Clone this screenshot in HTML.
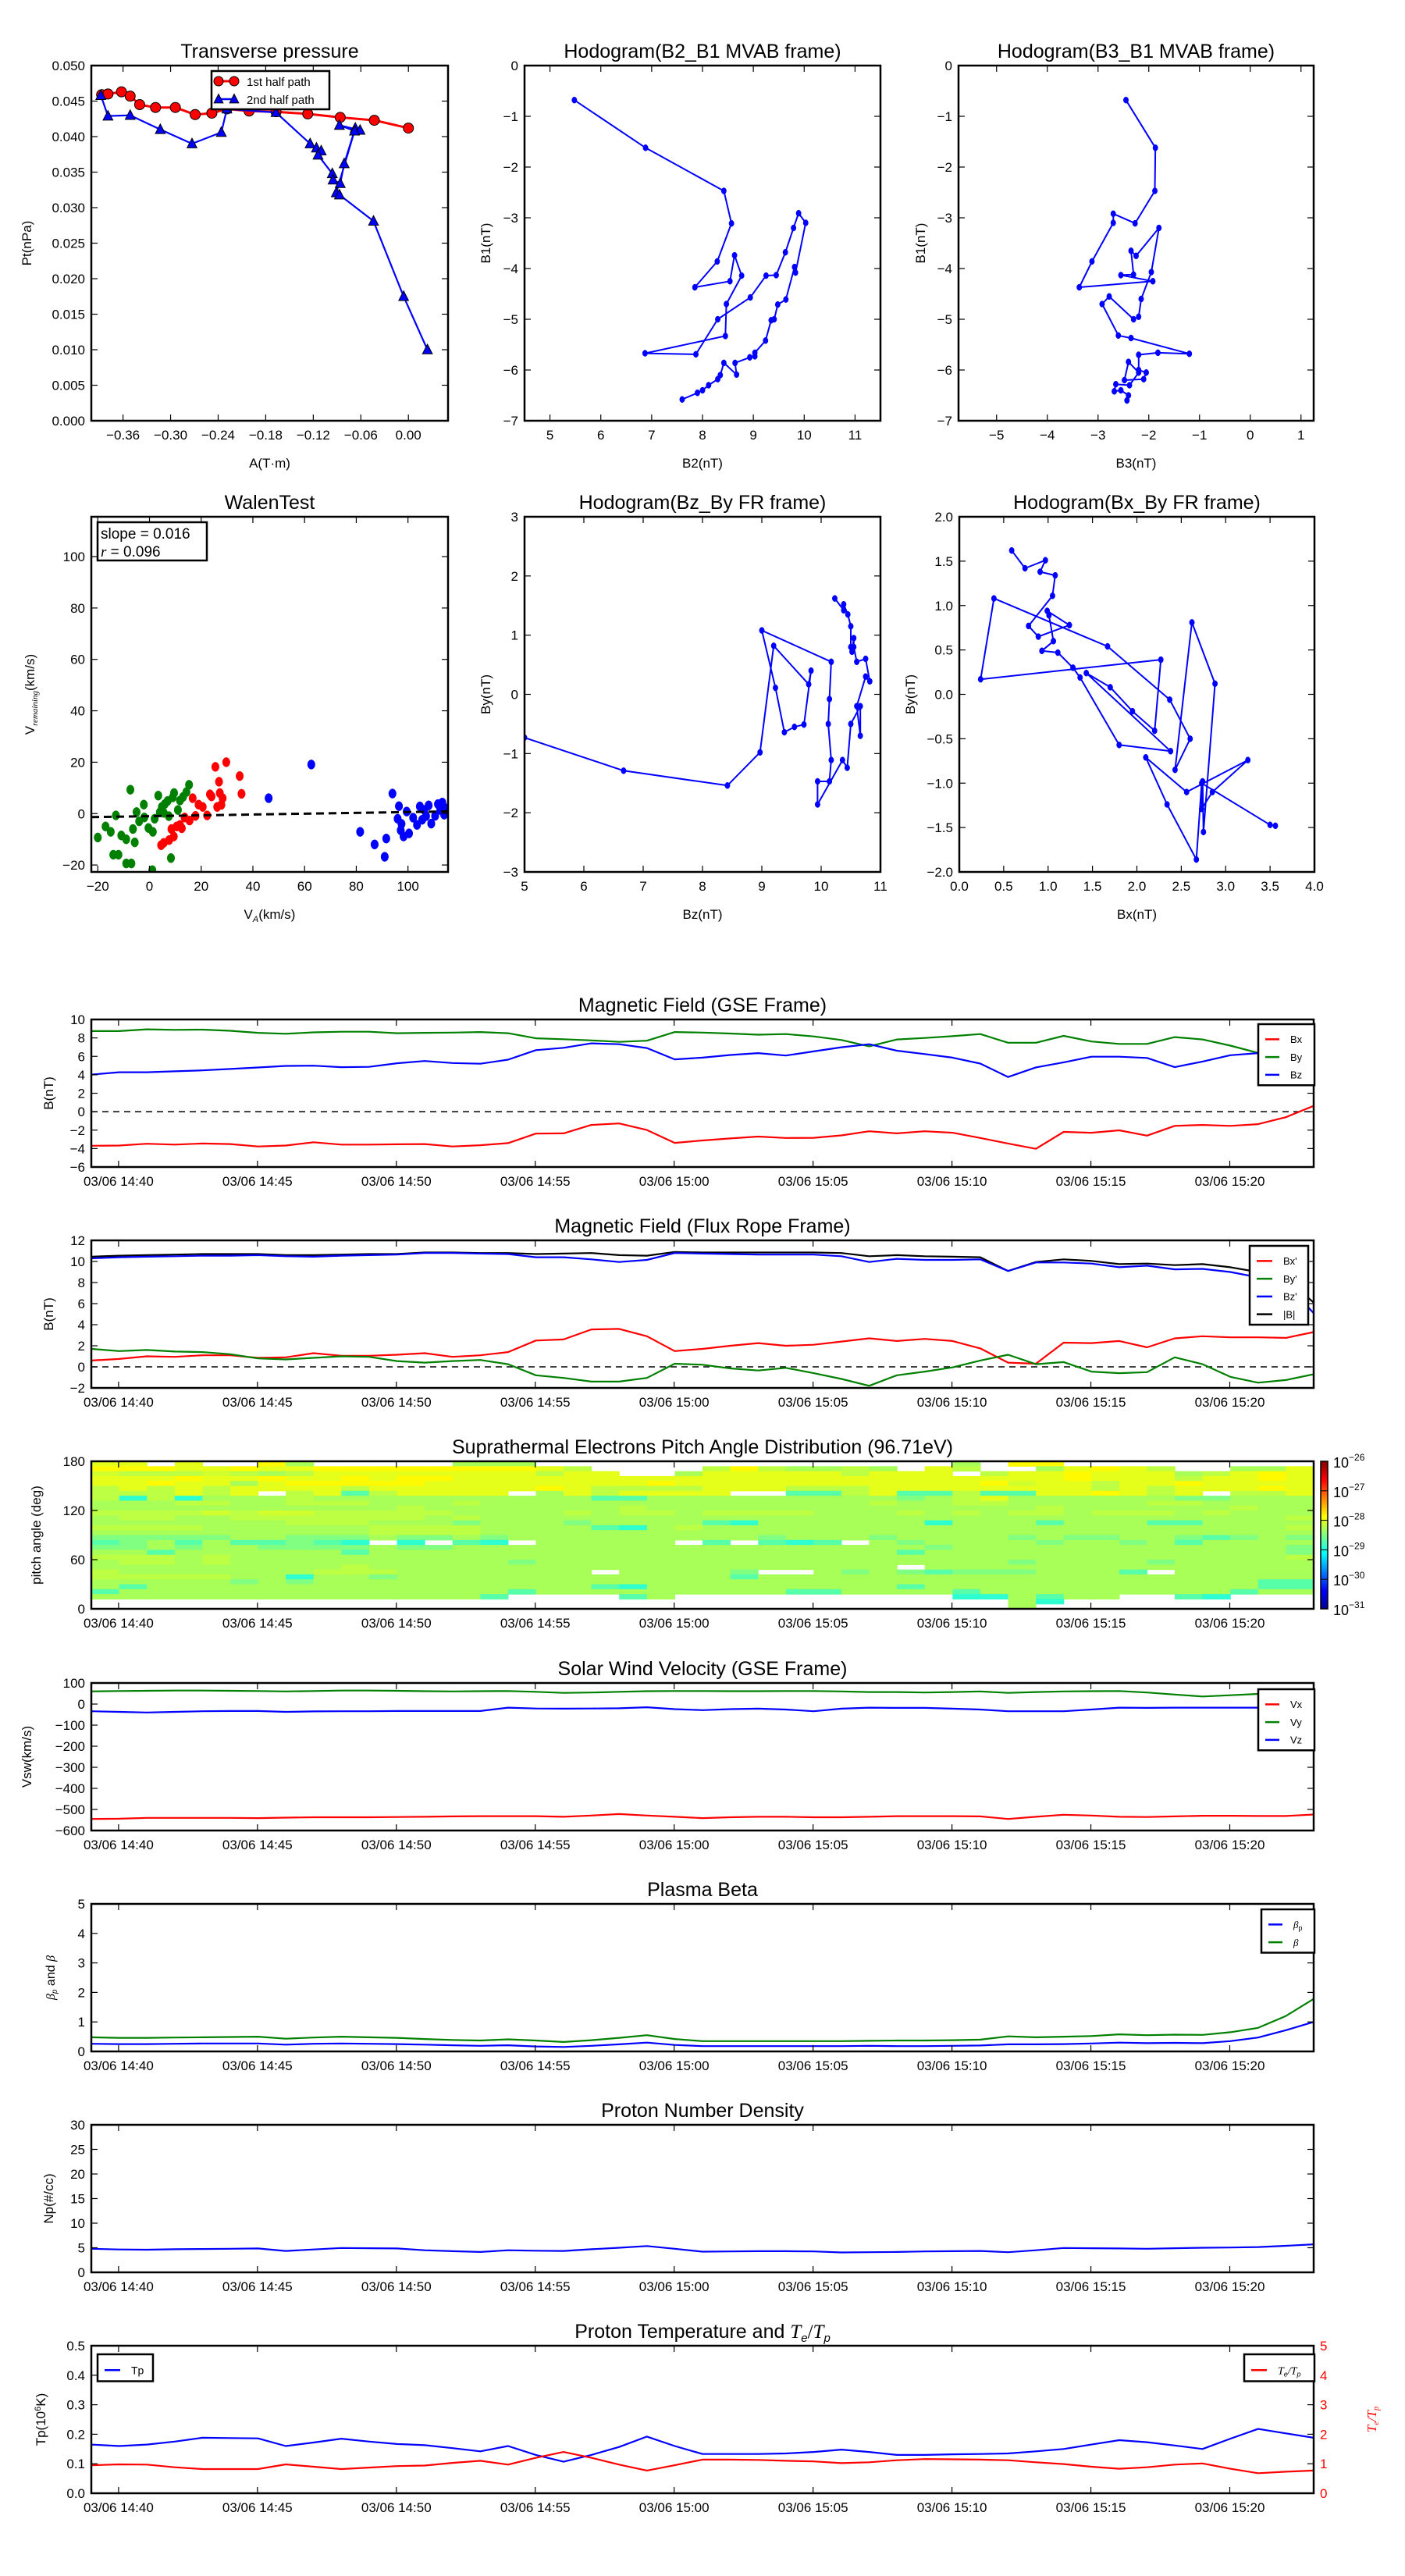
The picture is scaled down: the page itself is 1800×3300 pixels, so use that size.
<!DOCTYPE html>
<html>
<head>
<meta charset="utf-8">
<style>
html,body{margin:0;padding:0;background:#fff;}
svg{display:block;font-family:"Liberation Sans",sans-serif;}
</style>
</head>
<body>
<svg id="fig" xmlns="http://www.w3.org/2000/svg" width="1800" height="3300" viewBox="0 0 1800 3300">
<rect x="0" y="0" width="1800" height="3300" fill="#fff"/>
<defs>
<linearGradient id="jet" x1="0" y1="1" x2="0" y2="0">
<stop offset="0" stop-color="#00008f"/><stop offset="0.125" stop-color="#0000ff"/><stop offset="0.375" stop-color="#00ffff"/>
<stop offset="0.625" stop-color="#ffff00"/><stop offset="0.875" stop-color="#ff0000"/><stop offset="1" stop-color="#800000"/>
</linearGradient>
</defs>
</svg>
<script>
// ---------------- DATA ----------------
const bxGSE=[-3.7,-3.67,-3.48,-3.57,-3.45,-3.51,-3.77,-3.67,-3.32,-3.57,-3.57,-3.54,-3.51,-3.77,-3.64,-3.41,-2.38,-2.35,-1.44,-1.28,-1.99,-3.38,-3.12,-2.9,-2.7,-2.85,-2.83,-2.57,-2.12,-2.35,-2.12,-2.28,-2.85,-3.45,-4.03,-2.19,-2.28,-2.02,-2.6,-1.54,-1.44,-1.54,-1.35,-0.6,0.63];
const byGSE=[8.74,8.74,8.93,8.87,8.9,8.77,8.55,8.45,8.6,8.67,8.67,8.51,8.55,8.58,8.64,8.51,7.96,7.86,7.73,7.57,7.7,8.64,8.58,8.48,8.35,8.42,8.16,7.77,7.09,7.83,7.99,8.19,8.42,7.48,7.48,8.22,7.61,7.35,7.35,8.09,7.83,7.16,6.38,6.0,5.8];
const bzGSE=[4.02,4.28,4.28,4.38,4.48,4.63,4.79,4.96,4.99,4.83,4.86,5.25,5.5,5.28,5.2,5.64,6.67,6.93,7.41,7.32,6.9,5.67,5.86,6.15,6.35,6.09,6.54,6.99,7.32,6.61,6.25,5.86,5.22,3.76,4.8,5.35,5.96,5.96,5.83,4.83,5.44,6.12,6.35,6.4,4.25];
const bxFR=[0.6,0.75,1.0,0.95,1.1,1.1,0.85,0.9,1.3,1.05,1.05,1.15,1.3,0.95,1.1,1.4,2.5,2.6,3.55,3.6,2.9,1.5,1.7,2.0,2.25,2.0,2.1,2.4,2.7,2.45,2.65,2.45,1.75,0.4,0.3,2.3,2.25,2.45,1.85,2.7,2.9,2.8,2.8,2.75,3.3];
const byFR=[1.7,1.5,1.6,1.45,1.4,1.2,0.8,0.7,0.85,1.0,0.95,0.55,0.4,0.55,0.65,0.25,-0.8,-1.05,-1.4,-1.4,-1.05,0.3,0.2,-0.15,-0.35,-0.1,-0.6,-1.15,-1.8,-0.8,-0.45,-0.05,0.6,1.15,0.25,0.45,-0.45,-0.6,-0.5,0.9,0.25,-0.95,-1.5,-1.25,-0.7];
const bzFR=[10.3,10.4,10.45,10.5,10.55,10.55,10.6,10.5,10.45,10.55,10.6,10.65,10.8,10.8,10.75,10.7,10.4,10.4,10.2,9.95,10.15,10.8,10.75,10.7,10.65,10.65,10.65,10.5,9.95,10.25,10.15,10.15,10.2,9.1,9.9,9.9,9.8,9.45,9.6,9.25,9.3,9.0,8.5,7.9,5.1];
const btFR=[10.45,10.55,10.6,10.65,10.7,10.7,10.7,10.6,10.6,10.65,10.7,10.7,10.85,10.85,10.8,10.8,10.7,10.75,10.8,10.6,10.55,10.9,10.85,10.85,10.85,10.85,10.85,10.8,10.5,10.6,10.5,10.45,10.4,9.1,9.95,10.2,10.05,9.75,9.8,9.65,9.75,9.45,9.0,8.4,6.1];
const vx=[-545,-544,-540,-540,-540,-540,-541,-539,-537,-537,-537,-536,-535,-533,-532,-532,-532,-535,-529,-522,-529,-535,-541,-537,-535,-535,-537,-537,-535,-532,-532,-532,-533,-545,-535,-525,-529,-535,-536,-533,-530,-530,-531,-531,-524];
const vy=[60,62,63,64,64,63,62,60,62,64,64,63,61,60,61,62,58,53,55,58,61,62,62,61,61,62,62,60,57,57,55,57,60,53,57,60,61,62,55,45,36,42,48,54,60];
const vz=[-34,-37,-40,-37,-34,-33,-33,-37,-35,-34,-34,-33,-33,-33,-33,-17,-21,-22,-21,-20,-15,-24,-29,-24,-22,-26,-34,-22,-17,-18,-18,-22,-26,-34,-34,-34,-26,-17,-18,-17,-17,-17,-17,-15,0];
const betaP=[0.26,0.25,0.25,0.26,0.27,0.27,0.27,0.23,0.26,0.27,0.26,0.25,0.23,0.21,0.19,0.21,0.17,0.15,0.19,0.24,0.3,0.22,0.18,0.18,0.18,0.18,0.18,0.18,0.19,0.18,0.18,0.19,0.2,0.24,0.24,0.25,0.27,0.3,0.28,0.29,0.28,0.35,0.47,0.72,1.0];
const betaT=[0.48,0.46,0.46,0.47,0.48,0.49,0.5,0.43,0.47,0.5,0.48,0.46,0.42,0.39,0.37,0.41,0.37,0.32,0.38,0.46,0.55,0.42,0.35,0.35,0.35,0.35,0.35,0.35,0.36,0.37,0.37,0.38,0.4,0.51,0.48,0.5,0.52,0.58,0.55,0.57,0.56,0.65,0.8,1.2,1.78];
const np=[4.8,4.65,4.6,4.7,4.75,4.8,4.85,4.35,4.65,4.95,4.9,4.85,4.5,4.3,4.15,4.5,4.4,4.35,4.7,5.0,5.35,4.8,4.2,4.25,4.3,4.3,4.25,4.05,4.1,4.15,4.25,4.3,4.35,4.1,4.5,4.95,4.9,4.85,4.8,4.9,5.0,5.05,5.15,5.4,5.7];
const tp=[0.165,0.16,0.165,0.175,0.188,0.187,0.186,0.16,0.172,0.185,0.175,0.167,0.163,0.153,0.142,0.16,0.13,0.107,0.13,0.157,0.192,0.16,0.133,0.133,0.133,0.135,0.14,0.148,0.14,0.13,0.13,0.132,0.133,0.135,0.142,0.15,0.165,0.18,0.173,0.162,0.15,0.185,0.218,0.203,0.188];
const teTp=[0.95,0.98,0.97,0.88,0.82,0.82,0.82,0.98,0.9,0.82,0.87,0.92,0.94,1.03,1.1,0.97,1.2,1.4,1.2,0.97,0.77,0.95,1.14,1.14,1.13,1.1,1.08,1.02,1.05,1.12,1.16,1.15,1.14,1.12,1.05,0.99,0.9,0.83,0.88,0.97,1.01,0.83,0.68,0.73,0.77];
const timeTickLabels=["03/06 14:40","03/06 14:45","03/06 14:50","03/06 14:55","03/06 15:00","03/06 15:05","03/06 15:10","03/06 15:15","03/06 15:20"];
const timeTickPos=[0.98,5.98,10.98,15.98,20.98,25.98,30.98,35.98,40.98];

const ptA1=[-0.387,-0.379,-0.362,-0.351,-0.339,-0.319,-0.294,-0.269,-0.248,-0.229,-0.201,-0.167,-0.127,-0.086,-0.043,0.0];
const ptP1=[0.0459,0.046,0.0463,0.0457,0.0445,0.0441,0.0441,0.0431,0.0433,0.0439,0.0436,0.0435,0.0432,0.0427,0.0423,0.0412];
const ptA2=[-0.388,-0.379,-0.351,-0.313,-0.273,-0.236,-0.229,-0.167,-0.124,-0.116,-0.110,-0.114,-0.096,-0.095,-0.086,-0.081,-0.067,-0.061,-0.087,-0.068,-0.091,-0.087,-0.044,-0.006,0.024];
const ptP2=[0.0458,0.0429,0.0430,0.0410,0.0390,0.0406,0.0439,0.0434,0.0390,0.0384,0.0380,0.0374,0.0348,0.0339,0.0334,0.0362,0.0412,0.0409,0.0416,0.0408,0.0321,0.0318,0.0281,0.0175,0.0100];
const ptXTicks=[-0.36,-0.30,-0.24,-0.18,-0.12,-0.06,0.00];
const ptYTicks=[0,0.005,0.01,0.015,0.02,0.025,0.03,0.035,0.04,0.045,0.05];

const h1B2=[5.48,6.88,8.42,8.57,8.29,7.85,8.54,8.63,8.77,8.47,8.45,6.87,7.87,8.3,8.94,9.25,9.45,9.63,9.79,9.89,10.03,9.83,9.81,9.64,9.48,9.41,9.35,9.24,9.03,9.03,8.93,8.64,8.67,8.42,8.35,8.3,8.12,8.0,7.9,7.6];
const h1B1=[-0.68,-1.62,-2.47,-3.11,-3.86,-4.37,-4.25,-3.74,-4.14,-4.7,-5.33,-5.67,-5.69,-5.0,-4.57,-4.14,-4.13,-3.68,-3.2,-2.91,-3.1,-4.08,-3.97,-4.61,-4.71,-5.0,-5.02,-5.42,-5.66,-5.73,-5.75,-5.86,-6.09,-5.86,-6.1,-6.18,-6.3,-6.4,-6.45,-6.58];
const h2B3=[-2.45,-1.87,-1.88,-2.27,-2.7,-2.7,-3.12,-3.37,-1.92,-2.55,-2.3,-2.35,-2.25,-1.8,-1.95,-2.15,-2.2,-2.3,-2.78,-2.92,-2.6,-2.35,-1.2,-1.82,-2.2,-2.2,-2.05,-2.1,-2.48,-2.4,-2.2,-2.38,-2.65,-2.68,-2.55,-2.4,-2.43];
const h2B1=[-0.68,-1.62,-2.47,-3.11,-2.92,-3.1,-3.86,-4.37,-4.25,-4.13,-4.12,-3.65,-3.75,-3.2,-4.07,-4.6,-4.95,-5.0,-4.55,-4.7,-5.32,-5.37,-5.68,-5.66,-5.7,-6.0,-6.05,-6.18,-6.2,-5.84,-6.05,-6.3,-6.28,-6.42,-6.4,-6.5,-6.6];
const walGreenX=[-20,-15,-13,-12,-14,-9,-7,-7.4,-5.7,-6.4,-10.9,-9,-5,-2.2,-0.4,1.3,2,3.4,4.8,5.9,7,8.3,9,11,11.8,13,14.3,15.3,1.1,4,7.5,-2,5.5,-17,-4,9.5];
const walGreenY=[-9.3,-7.1,-0.7,-16,-16,-19.4,-19.4,9.3,-11.2,-6,-8.5,-10,0.6,3.5,-5.6,-7.1,-2,7,2.6,3.7,4.9,-17.3,6.3,1.4,5.1,6.5,8.4,11.2,-22,0.5,-1,-1.5,0.3,-5,-3,8];
const walRedX=[25.5,29.7,34.9,35.6,26.9,27.2,28.3,26.2,23.4,22.3,20.6,17.8,16.7,13.6,11.8,9.4,7.6,5.5,4.5,12.5,15.5,10.5,24,27.8,19,8.5];
const walRedY=[18.2,20,14.6,7.7,12.4,8,6,2.6,7.5,-0.7,2.6,-0.9,6,-1.5,-4.4,-8.9,-10.3,-11.4,-12.3,-5.7,-2.7,-5,6.7,3.4,3.5,-6];
const walBlueX=[46.1,62.6,81.5,87.1,91,91.6,94,96.5,97.2,98.3,100.4,102,103.5,104.6,106.3,108,109,110.5,111.6,113.3,114,96,99.5,105.5,112.5,97.5,107,115];
const walBlueY=[6,19.1,-7.1,-12,-16.8,-9.7,7.8,2.9,-6.5,-8.9,-7.7,-1.6,-4.4,2.8,1.4,3.2,-3.9,-0.9,3.7,4.3,-0.4,-2,0.8,-2.4,1.4,-4,-1,2];
const walSlope=[0.016], walIntercept=[-1.0];
const walTicks=[-20,0,20,40,60,80,100];
const h3Bz=[5,6.67,8.42,8.97,9.2,9.79,9.83,9.71,9.55,9.38,9.23,9.0,10.17,10.14,10.12,10.17,10.14,9.94,9.94,10.36,10.44,10.5,10.66,10.66,10.6,10.75,10.82,10.75,10.6,10.55,10.55,10.52,10.5,10.5,10.45,10.38,10.38,10.23];
const h3By=[-0.73,-1.29,-1.54,-0.98,0.82,0.17,0.4,-0.51,-0.55,-0.64,0.11,1.08,0.55,-0.08,-0.5,-1.11,-1.47,-1.47,-1.86,-1.11,-1.24,-0.5,-0.2,-0.7,-0.2,0.3,0.22,0.6,0.55,0.8,0.95,0.72,0.8,1.15,1.35,1.52,1.42,1.62];
const h4Bx=[0.59,0.74,0.97,0.91,1.08,1.05,0.78,0.89,1.24,0.99,1.01,1.06,0.93,1.11,1.28,1.36,1.8,2.38,1.43,1.7,1.95,2.2,2.27,0.24,0.39,1.67,2.37,2.6,2.43,2.62,2.88,2.75,2.74,2.73,2.85,3.25,2.56,2.1,2.34,2.67,2.73,3.5,3.56];
const h4By=[1.62,1.42,1.51,1.38,1.34,1.11,0.77,0.65,0.78,0.94,0.89,0.6,0.49,0.47,0.3,0.19,-0.57,-0.64,0.24,0.08,-0.19,-0.41,0.39,0.17,1.08,0.54,-0.06,-0.5,-0.85,0.81,0.12,-1.55,-0.98,-1.29,-1.1,-0.74,-1.1,-0.71,-1.24,-1.86,-1.0,-1.47,-1.48];
const padRows=[
"YYwYwwolwwwwwlllwwwwwwwwwwwwwwwlwoowwwwwwwww",
"oooYYoYYooooooooYkwwwwkokllklwYkwwlYoYkwwllY",
"ykkkyklkYYYYYYYYkYYwwlYYYYYkYYYwkYYoYYYlkYoY",
"YYYoYYoYYoYooYYYYYYYYYYYYYYYYYYYYYYoYYYkYYoY",
"YYoYYlYoooooYYYYYYYYoYYYYYYYYYYYoyYYkYYoYYYY",
"kYkYkYYYYkYYYYYYoYkkkkYYYkkkYYYYYYYYkYkYYYoY",
"kkkYkYwkYtkYYYYwlYkYYYYwwttkYttkttYYoYkYwkkY",
"kckclllkllllllllllttlllllllllglkYllllllgglll",
"lllkkllkkklllkllllllllllllllkllkklllllkkllll",
"lllllllllllklllllllkllllllllllllllkllllllkll",
"kkkkykyykkkkkllllklkklkkkklllklklkklkkklklll",
"lkkllkkkkkkklklllllllllllllllllllllllllllllk",
"lllllllkkklllglllglllltcllllllcllltlllttllll",
"kkkkllllllkkkklllltclklllllllllllllllllllllk",
"llllllllllkkkkllllllllllllllllllllllllllllll",
"gggggllggglgglglllllllllglllgllllglggllgtglg",
"tgltlttgtcwcwtcwlllllwtwtctwlgllllgllgltllll",
"gglgllgggglgglllllllllllllllllgllllllllllllg",
"lltlllllltllllllllllllllllllltlllllllllllllg",
"kkklkllllllllllllllllllllllllllllllllllllllk",
"lkklkllllllllllglllllllllllllllllgllllglllll",
"lllllllllklllllllllllllllllllwllllllllllllll",
"klllllllkkklllllllwllllgwwlglgtgggllltwlllll",
"kkkkkllcllglllllllllllltllllllllllllllllllll",
"lllllglglllllllllllllllllllllllllllllllllltt",
"ltlllllllllllllllltcllllllllltlllllllllllltt",
"tlllllllllllllltlllllllllttlllltllllllllltll",
"lllllllllllllltwwwwtlwwwwwwwwwwccltllwwtcwww",
"wwwwwwwwwwwwwwwwwwwwwwwwwwwwwwwwwlcwwwwwwwww",
"wwwwwwwwwwwwwwwwwwwwwwwwwwwwwwwwwlwwwwwwwwww"];
const padLevels={c:-28.9,t:-28.7,g:-28.5,l:-28.3,k:-28.2,y:-28.1,Y:-28.0,o:-27.85,O:-27.7};
const cbTicks=[-26,-27,-28,-29,-30,-31];

// ---------------- DRAWING ----------------
const NS='http://www.w3.org/2000/svg';
const svg=document.getElementById('fig');
let clipId=0;
function mk(tag,attrs,parent,name){
  const e=document.createElementNS(NS,tag);
  for(const k in attrs) e.setAttribute(k,attrs[k]);
  
  
  parent.appendChild(e);
  return e;
}
function txt(parent,x,y,s,size,anchor,name,extra){
  const a={x:x,y:y,'font-size':size,'text-anchor':anchor||'middle',fill:'#000'};
  if(extra) for(const k in extra) a[k]=extra[k];
  const t=mk('text',a,parent,name);
  t.textContent=s;
  return t;
}
function axes(name,x0,y0,w,h,xmin,xmax,ymin,ymax){
  const g=mk('g',{},svg,name);
  const id='clip'+(clipId++);
  const cp=mk('clipPath',{id:id},g,name+'-clip');
  mk('rect',{x:x0,y:y0,width:w,height:h},cp,name+'-clip-rect');
  const dg=mk('g',{'clip-path':'url(#'+id+')'},g,name+'-data');
  return {g,dg,x0,y0,w,h,X:v=>x0+(v-xmin)/(xmax-xmin)*w,Y:v=>y0+h-(v-ymin)/(ymax-ymin)*h};
}
function frame(ax){
  mk('rect',{x:ax.x0,y:ax.y0,width:ax.w,height:ax.h,fill:'none',stroke:'#000','stroke-width':2.5},ax.g,'plot-frame');
}
function xticks(ax,vals,labels,size){
  vals.forEach((v,i)=>{
    const x=ax.X(v);
    mk('line',{x1:x,x2:x,y1:ax.y0+ax.h,y2:ax.y0+ax.h-8,stroke:'#000','stroke-width':1.2},ax.g,'x-tick');
    mk('line',{x1:x,x2:x,y1:ax.y0,y2:ax.y0+8,stroke:'#000','stroke-width':1.2},ax.g,'x-tick-top');
    txt(ax.g,x,ax.y0+ax.h+24,labels[i],size||17,'middle','x-tick-label');
  });
}
function yticks(ax,vals,labels,size){
  vals.forEach((v,i)=>{
    const y=ax.Y(v);
    mk('line',{x1:ax.x0,x2:ax.x0+8,y1:y,y2:y,stroke:'#000','stroke-width':1.2},ax.g,'y-tick');
    mk('line',{x1:ax.x0+ax.w,x2:ax.x0+ax.w-8,y1:y,y2:y,stroke:'#000','stroke-width':1.2},ax.g,'y-tick-right');
    if(labels) txt(ax.g,ax.x0-8,y+6,labels[i],size||17,'end','y-tick-label');
  });
}
function title(ax,s,name){ return txt(ax.g,ax.x0+ax.w/2,ax.y0-10,s,25,'middle',name||'chart-title'); }
function ylabel(ax,s,x,name){
  const cy=ax.y0+ax.h/2;
  return txt(ax.g,x,cy,s,17,'middle',name||'y-axis-title',{transform:'rotate(-90 '+x+' '+cy+')'});
}
function xlabel(ax,s,name){ return txt(ax.g,ax.x0+ax.w/2,ax.y0+ax.h+60,s,17,'middle',name||'x-axis-title'); }
function series(ax,xs,ys,color,name,sw){
  const pts=xs.map((x,i)=>ax.X(x).toFixed(1)+','+ax.Y(ys[i]).toFixed(1)).join(' ');
  return mk('polyline',{points:pts,fill:'none',stroke:color,'stroke-width':sw||2.2,'stroke-linejoin':'round'},ax.dg,name);
}
function dots(ax,xs,ys,color,r,name){
  xs.forEach((x,i)=>{
    mk('ellipse',{cx:ax.X(x),cy:ax.Y(ys[i]),rx:r*0.8,ry:r,fill:color,stroke:color,'stroke-width':0.5},ax.dg,name);
  });
}
function tri(parent,cx,cy,s,name){
  return mk('polygon',{points:(cx)+','+(cy-s)+' '+(cx-s*0.9)+','+(cy+s*0.75)+' '+(cx+s*0.9)+','+(cy+s*0.75),fill:'#0000ff',stroke:'#000','stroke-width':1},parent,name);
}
function idx(n){ const a=[]; for(let i=0;i<n;i++) a.push(i); return a; }
function legend(ax,x,y,w,entries,size,lineLen){
  const rowH=size*1.75;
  const h=entries.length*rowH+10;
  const g=mk('g',{},ax.g,'legend');
  mk('rect',{x:x,y:y,width:w,height:h,fill:'#fff',stroke:'#000','stroke-width':2.5},g,'legend-box');
  entries.forEach((e,i)=>{
    const cy=y+8+rowH*(i+0.5);
    mk('line',{x1:x+9,x2:x+9+(lineLen||22),y1:cy,y2:cy,stroke:e.color,'stroke-width':2.5},g,'legend-line-'+e.key);
    const t=txt(g,x+9+(lineLen||22)+14,cy+size*0.36,'',size,'start','legend-entry-'+e.key);
    e.parts.forEach(p=>{
      const ts=mk('tspan',p.attrs||{},t,'legend-text-part');
      ts.textContent=p.s;
    });
  });
  return g;
}

(function(){
  const ax=axes('transverse-pressure-chart',117,84,457,455,-0.40,0.05,0,0.05);
  series(ax,ptA1,ptP1,'#ff0000','first-half-path-line',3);
  ptA1.forEach((a,i)=>{
    mk('circle',{cx:ax.X(a),cy:ax.Y(ptP1[i]),r:6.5,fill:'#ff0000',stroke:'#000','stroke-width':1},ax.dg,'first-half-point');
  });
  series(ax,ptA2,ptP2,'#0000ff','second-half-path-line',2.2);
  ptA2.forEach((a,i)=>{ tri(ax.dg,ax.X(a),ax.Y(ptP2[i]),7,'second-half-point'); });
  frame(ax);
  xticks(ax,ptXTicks,ptXTicks.map(v=>(v===0?'0.00':v.toFixed(2).replace('-','\u2212'))));
  yticks(ax,ptYTicks,ptYTicks.map(v=>v.toFixed(3)));
  title(ax,'Transverse pressure');
  xlabel(ax,'A(T\u00b7m)');
  ylabel(ax,'Pt(nPa)',40);
  const lg=mk('g',{},ax.g,'legend');
  mk('rect',{x:271,y:91,width:151,height:49,fill:'#fff',stroke:'#000','stroke-width':2.5},lg,'legend-box');
  mk('line',{x1:280,x2:300,y1:104,y2:104,stroke:'#ff0000','stroke-width':3},lg,'legend-line-first-half');
  mk('circle',{cx:280,cy:104,r:6,fill:'#ff0000',stroke:'#000'},lg,'legend-marker-first-half');
  mk('circle',{cx:300,cy:104,r:6,fill:'#ff0000',stroke:'#000'},lg,'legend-marker-first-half');
  txt(lg,316,110,'1st half path',15,'start','legend-entry-first-half');
  mk('line',{x1:280,x2:300,y1:127,y2:127,stroke:'#0000ff','stroke-width':2.5},lg,'legend-line-second-half');
  tri(lg,280,127,6.5,'legend-marker-second-half');
  tri(lg,300,127,6.5,'legend-marker-second-half');
  txt(lg,316,133,'2nd half path',15,'start','legend-entry-second-half');
})();

(function(){
  const ax=axes('hodogram-b2-b1-chart',672,84,456,455,4.5,11.5,-7,0);
  series(ax,h1B2,h1B1,'#0000ff','hodogram-line',2);
  dots(ax,h1B2,h1B1,'#0000ff',4,'hodogram-point');
  frame(ax);
  const xt=[5,6,7,8,9,10,11];
  xticks(ax,xt,xt.map(String));
  const yt=[0,-1,-2,-3,-4,-5,-6,-7];
  yticks(ax,yt,yt.map(v=>v===0?'0':'\u2212'+(-v)));
  title(ax,'Hodogram(B2_B1 MVAB frame)');
  xlabel(ax,'B2(nT)');
  ylabel(ax,'B1(nT)',628);
})();

(function(){
  const ax=axes('hodogram-b3-b1-chart',1228,84,455,455,-5.75,1.25,-7,0);
  series(ax,h2B3,h2B1,'#0000ff','hodogram-line',2);
  dots(ax,h2B3,h2B1,'#0000ff',4,'hodogram-point');
  frame(ax);
  const xt=[-5,-4,-3,-2,-1,0,1];
  xticks(ax,xt,xt.map(v=>v<0?'\u2212'+(-v):String(v)));
  const yt=[0,-1,-2,-3,-4,-5,-6,-7];
  yticks(ax,yt,yt.map(v=>v===0?'0':'\u2212'+(-v)));
  title(ax,'Hodogram(B3_B1 MVAB frame)');
  xlabel(ax,'B3(nT)');
  ylabel(ax,'B1(nT)',1185);
})();

(function(){
  const ax=axes('walen-test-chart',117,662,457,455,-22.5,115.5,-22.7,115.5);
  dots(ax,walGreenX,walGreenY,'#008000',6,'walen-point-green');
  dots(ax,walRedX,walRedY,'#ff0000',6,'walen-point-red');
  dots(ax,walBlueX,walBlueY,'#0000ff',6,'walen-point-blue');
  const fx=[-22.5,115.5];
  const fy=fx.map(x=>walIntercept[0]+walSlope[0]*x);
  mk('line',{x1:ax.X(fx[0]),y1:ax.Y(fy[0]),x2:ax.X(fx[1]),y2:ax.Y(fy[1]),stroke:'#000','stroke-width':3,'stroke-dasharray':'10,6'},ax.dg,'walen-fit-line');
  frame(ax);
  xticks(ax,walTicks,walTicks.map(v=>v<0?'\u2212'+(-v):String(v)));
  yticks(ax,walTicks,walTicks.map(v=>v<0?'\u2212'+(-v):String(v)));
  title(ax,'WalenTest');
  const xl=txt(ax.g,ax.x0+ax.w/2,ax.y0+ax.h+60,'V',17,'middle','x-axis-title');
  const s1=mk('tspan',{'font-size':11,'font-style':'italic',dy:4},xl,'x-axis-title-subscript'); s1.textContent='A';
  const s2=mk('tspan',{dy:-4},xl,'x-axis-title-unit'); s2.textContent='(km/s)';
  const cy=ax.y0+ax.h/2;
  const yl=txt(ax.g,44,cy,'V',17,'middle','y-axis-title',{transform:'rotate(-90 44 '+cy+')'});
  const s3=mk('tspan',{'font-size':11,'font-style':'italic','font-family':'Liberation Serif, serif',dy:4},yl,'y-axis-title-subscript'); s3.textContent='remaining';
  const s4=mk('tspan',{dy:-4},yl,'y-axis-title-unit'); s4.textContent='(km/s)';
  const bx=mk('g',{},ax.g,'fit-stats-box');
  mk('rect',{x:125,y:669,width:140,height:49,fill:'#fff',stroke:'#000','stroke-width':2.5},bx,'fit-stats-frame');
  txt(bx,129,690,'slope = 0.016',19,'start','slope-label');
  const rt=txt(bx,129,713,'',19,'start','correlation-label');
  const r1=mk('tspan',{'font-style':'italic','font-family':'Liberation Serif, serif'},rt,'correlation-symbol'); r1.textContent='r';
  const r2=mk('tspan',{},rt,'correlation-value'); r2.textContent=' = 0.096';
})();

(function(){
  const ax=axes('hodogram-bz-by-chart',672,662,456,455,5,11,-3,3);
  series(ax,h3Bz,h3By,'#0000ff','hodogram-line',2);
  dots(ax,h3Bz,h3By,'#0000ff',4,'hodogram-point');
  frame(ax);
  const xt=[5,6,7,8,9,10,11];
  xticks(ax,xt,xt.map(String));
  const yt=[-3,-2,-1,0,1,2,3];
  yticks(ax,yt,yt.map(v=>v<0?'\u2212'+(-v):String(v)));
  title(ax,'Hodogram(Bz_By FR frame)');
  xlabel(ax,'Bz(nT)');
  ylabel(ax,'By(nT)',628);
})();

(function(){
  const ax=axes('hodogram-bx-by-chart',1229,662,455,455,0,4,-2,2);
  series(ax,h4Bx,h4By,'#0000ff','hodogram-line',2);
  dots(ax,h4Bx,h4By,'#0000ff',4,'hodogram-point');
  frame(ax);
  const xt=[0,0.5,1,1.5,2,2.5,3,3.5,4];
  xticks(ax,xt,xt.map(v=>v.toFixed(1)));
  const yt=[-2,-1.5,-1,-0.5,0,0.5,1,1.5,2];
  yticks(ax,yt,yt.map(v=>v<0?'\u2212'+(-v).toFixed(1):v.toFixed(1)));
  title(ax,'Hodogram(Bx_By FR frame)');
  xlabel(ax,'Bx(nT)');
  ylabel(ax,'By(nT)',1172);
})();

const TX=117, TW=1566, TH=189;
function tsAxes(name,top,ymin,ymax){ return axes(name,TX,top,TW,TH,0,44,ymin,ymax); }
function timeX(ax){ xticks(ax,timeTickPos,timeTickLabels,17); }
function zeroLine(ax){
  mk('line',{x1:ax.x0,x2:ax.x0+ax.w,y1:ax.Y(0),y2:ax.Y(0),stroke:'#000','stroke-width':1.5,'stroke-dasharray':'8,6'},ax.dg,'zero-reference-line');
}
function neg(v){ return v<0?'\u2212'+(-v):String(v); }

(function(){
  const ax=tsAxes('magnetic-field-gse-chart',1306,-6,10);
  zeroLine(ax);
  const t=idx(45);
  series(ax,t,bxGSE,'#ff0000','bx-line');
  series(ax,t,byGSE,'#008000','by-line');
  series(ax,t,bzGSE,'#0000ff','bz-line');
  frame(ax);
  timeX(ax);
  const yt=[-6,-4,-2,0,2,4,6,8,10];
  yticks(ax,yt,yt.map(neg));
  title(ax,'Magnetic Field (GSE Frame)');
  ylabel(ax,'B(nT)',68);
  legend(ax,1612,1312,72,[
    {key:'bx',color:'#ff0000',parts:[{s:'Bx'}]},
    {key:'by',color:'#008000',parts:[{s:'By'}]},
    {key:'bz',color:'#0000ff',parts:[{s:'Bz'}]}],13,18);
})();

(function(){
  const ax=tsAxes('magnetic-field-flux-rope-chart',1589,-2,12);
  zeroLine(ax);
  const t=idx(45);
  series(ax,t,bxFR,'#ff0000','bx-prime-line');
  series(ax,t,byFR,'#008000','by-prime-line');
  series(ax,t,btFR,'#000000','b-magnitude-line');
  series(ax,t,bzFR,'#0000ff','bz-prime-line');
  frame(ax);
  timeX(ax);
  const yt=[-2,0,2,4,6,8,10,12];
  yticks(ax,yt,yt.map(neg));
  title(ax,'Magnetic Field (Flux Rope Frame)');
  ylabel(ax,'B(nT)',68);
  legend(ax,1601,1596,75,[
    {key:'bx-prime',color:'#ff0000',parts:[{s:"Bx'"}]},
    {key:'by-prime',color:'#008000',parts:[{s:"By'"}]},
    {key:'bz-prime',color:'#0000ff',parts:[{s:"Bz'"}]},
    {key:'b-magnitude',color:'#000000',parts:[{s:'|B|'}]}],13,20);
})();

function jet(x){
  const c=v=>Math.max(0,Math.min(1,v));
  const r=c(1.5-Math.abs(4*x-3)), g=c(1.5-Math.abs(4*x-2)), b=c(1.5-Math.abs(4*x-1));
  return 'rgb('+Math.round(r*255)+','+Math.round(g*255)+','+Math.round(b*255)+')';
}
(function(){
  const ax=axes('pitch-angle-distribution-chart',TX,1872,TW,TH,0,44,0,180);
  padRows.forEach((row,r)=>{
    for(let c=0;c<44;c++){
      const ch=row[c]||'l';
      if(ch==='w') continue;
      const v=padLevels[ch];
      const x1=ax.X(c), x2=ax.X(c+1);
      const yTop=ax.Y(180-6*r), yBot=ax.Y(180-6*(r+1));
      mk('rect',{x:x1.toFixed(1),y:yTop.toFixed(1),width:(x2-x1+0.6).toFixed(1),height:(yBot-yTop+0.6).toFixed(1),fill:jet((v+31)/5)},ax.dg,'pad-cell');
    }
  });
  frame(ax);
  timeX(ax);
  yticks(ax,[0,60,120,180],['0','60','120','180']);
  title(ax,'Suprathermal Electrons Pitch Angle Distribution (96.71eV)');
  ylabel(ax,'pitch angle (deg)',52);
  const cb=mk('g',{},svg,'colorbar');
  const cbTop=1872, cbH=189, cbX=1692;
  mk('rect',{x:cbX,y:cbTop,width:9,height:cbH,fill:'url(#jet)',stroke:'#000','stroke-width':1.5},cb,'colorbar-gradient');
  cbTicks.forEach(e=>{
    const y=cbTop+(-26-e)/5*cbH;
    mk('line',{x1:cbX,x2:cbX+9,y1:y,y2:y,stroke:'#000','stroke-width':1},cb,'colorbar-tick');
    const t=txt(cb,cbX+16,y+8,'10',18,'start','colorbar-tick-label');
    const sp=mk('tspan',{'font-size':12,dy:-9},t,'colorbar-tick-exponent');
    sp.textContent='\u2212'+(-e);
  });
})();

(function(){
  const ax=tsAxes('solar-wind-velocity-chart',2156,-600,100);
  const t=idx(45);
  series(ax,t,vx,'#ff0000','vx-line');
  series(ax,t,vy,'#008000','vy-line');
  series(ax,t,vz,'#0000ff','vz-line');
  frame(ax);
  timeX(ax);
  const yt=[-600,-500,-400,-300,-200,-100,0,100];
  yticks(ax,yt,yt.map(neg));
  title(ax,'Solar Wind Velocity (GSE Frame)');
  ylabel(ax,'Vsw(km/s)',40);
  legend(ax,1612,2164,72,[
    {key:'vx',color:'#ff0000',parts:[{s:'Vx'}]},
    {key:'vy',color:'#008000',parts:[{s:'Vy'}]},
    {key:'vz',color:'#0000ff',parts:[{s:'Vz'}]}],13,18);
})();

(function(){
  const ax=tsAxes('plasma-beta-chart',2439,0,5);
  const t=idx(45);
  series(ax,t,betaT,'#008000','beta-line');
  series(ax,t,betaP,'#0000ff','beta-proton-line');
  frame(ax);
  timeX(ax);
  const yt=[0,1,2,3,4,5];
  yticks(ax,yt,yt.map(String));
  title(ax,'Plasma Beta');
  const cy=ax.y0+ax.h/2;
  const yl=txt(ax.g,70,cy,'',16,'middle','y-axis-title',{transform:'rotate(-90 70 '+cy+')'});
  const a1=mk('tspan',{'font-style':'italic','font-family':'Liberation Serif, serif'},yl,'y-axis-title-part'); a1.textContent='\u03b2';
  const a2=mk('tspan',{'font-size':10,'font-style':'italic',dy:3},yl,'y-axis-title-part'); a2.textContent='p';
  const a3=mk('tspan',{dy:-3},yl,'y-axis-title-part'); a3.textContent=' and ';
  const a4=mk('tspan',{'font-style':'italic','font-family':'Liberation Serif, serif'},yl,'y-axis-title-part'); a4.textContent='\u03b2';
  legend(ax,1616,2446,68,[
    {key:'beta-proton',color:'#0000ff',parts:[{s:'\u03b2',attrs:{'font-style':'italic','font-family':'Liberation Serif, serif'}},{s:'p',attrs:{'font-size':9,dy:3}}]},
    {key:'beta',color:'#008000',parts:[{s:'\u03b2',attrs:{'font-style':'italic','font-family':'Liberation Serif, serif'}}]}],13,18);
})();

(function(){
  const ax=tsAxes('proton-density-chart',2722,0,30);
  series(ax,idx(45),np,'#0000ff','proton-density-line');
  frame(ax);
  timeX(ax);
  const yt=[0,5,10,15,20,25,30];
  yticks(ax,yt,yt.map(String));
  title(ax,'Proton Number Density');
  ylabel(ax,'Np(#/cc)',68);
})();

(function(){
  const ax=tsAxes('proton-temperature-chart',3005,0,0.5);
  const t=idx(45);
  series(ax,t,tp,'#0000ff','proton-temperature-line');
  const teY=teTp.map(v=>v/10);
  series(ax,t,teY,'#ff0000','te-tp-ratio-line');
  frame(ax);
  timeX(ax);
  const yt=[0,0.1,0.2,0.3,0.4,0.5];
  yticks(ax,yt,yt.map(v=>v.toFixed(1)));
  [0,1,2,3,4,5].forEach(v=>{
    txt(ax.g,ax.x0+ax.w+8,ax.Y(v/10)+6,String(v),17,'start','right-y-tick-label',{fill:'#ff0000'});
  });
  const tt=txt(ax.g,ax.x0+ax.w/2,ax.y0-10,'Proton Temperature and ',25,'middle','chart-title');
  const t1=mk('tspan',{'font-style':'italic','font-family':'Liberation Serif, serif'},tt,'title-te'); t1.textContent='T';
  const t2=mk('tspan',{'font-size':15,'font-style':'italic',dy:5},tt,'title-te-sub'); t2.textContent='e';
  const t3=mk('tspan',{dy:-5,'font-family':'Liberation Serif, serif'},tt,'title-slash'); t3.textContent='/';
  const t4=mk('tspan',{'font-style':'italic','font-family':'Liberation Serif, serif'},tt,'title-tp'); t4.textContent='T';
  const t5=mk('tspan',{'font-size':15,'font-style':'italic',dy:5},tt,'title-tp-sub'); t5.textContent='p';
  const cy=ax.y0+ax.h/2;
  const yl=txt(ax.g,58,cy,'Tp(10',17,'middle','y-axis-title',{transform:'rotate(-90 58 '+cy+')'});
  const y1=mk('tspan',{'font-size':11,dy:-6},yl,'y-axis-title-exponent'); y1.textContent='6';
  const y2=mk('tspan',{dy:6},yl,'y-axis-title-unit'); y2.textContent='K)';
  const rl=txt(ax.g,1763,cy,'',17,'middle','right-y-axis-title',{fill:'#ff0000','font-style':'italic','font-family':'Liberation Serif, serif',transform:'rotate(-90 1763 '+cy+')'});
  const r1=mk('tspan',{},rl,'right-axis-te'); r1.textContent='T';
  const r2=mk('tspan',{'font-size':10,dy:3},rl,'right-axis-te-sub'); r2.textContent='e';
  const r3=mk('tspan',{dy:-3},rl,'right-axis-slash'); r3.textContent='/T';
  const r4=mk('tspan',{'font-size':10,dy:3},rl,'right-axis-tp-sub'); r4.textContent='p';
  legend(ax,125,3016,71,[{key:'tp',color:'#0000ff',parts:[{s:'Tp'}]}],14,20);
  legend(ax,1594,3016,90,[{key:'te-tp',color:'#ff0000',parts:[
    {s:'T',attrs:{'font-style':'italic','font-family':'Liberation Serif, serif'}},
    {s:'e',attrs:{'font-size':9,dy:3,'font-style':'italic'}},
    {s:'/T',attrs:{dy:-3,'font-style':'italic','font-family':'Liberation Serif, serif'}},
    {s:'p',attrs:{'font-size':9,dy:3,'font-style':'italic'}}]}],14,20);
})();
</script>
</body>
</html>
